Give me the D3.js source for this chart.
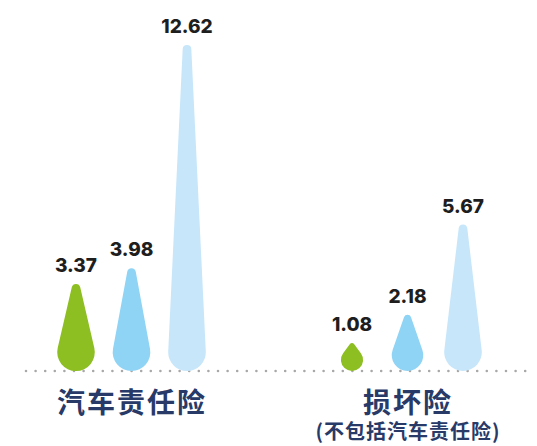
<!DOCTYPE html>
<html>
<head>
<meta charset="utf-8">
<script src="https://cdn.jsdelivr.net/npm/d3@7"></script>
<style>
  html, body { margin: 0; padding: 0; background: #ffffff; }
  svg { display: block; }
</style>
</head>
<body>
<svg id="chart" width="537" height="446"></svg>
<script>
// Insurance categories and their three series of values
const categories = ["汽车责任险", "损坏险"];
const subtitles = ["", "(不包括汽车责任险)"];
const seriesNames = ["a", "b", "c"];
const seriesColors = ["#8dbe22", "#8fd3f5", "#c7e6fa"];
const values = [
  [3.37, 3.98, 12.62],
  [1.08, 2.18, 5.67]
];

const svg = d3.select("#chart");

// Group positions and position of each series inside a group
const x0 = d3.scalePoint().domain(categories).range([131, 407]);
const x1 = d3.scalePoint().domain(seriesNames).range([-55, 56]);
const y = d3.scaleLinear().domain([0, 12.62]).range([371, 45]);

// Dotted baseline
svg.append("line")
  .attr("x1", 26).attr("x2", 532)
  .attr("y1", y(0)).attr("y2", y(0))
  .attr("stroke", "#a8a8a8")
  .attr("stroke-width", 2.6)
  .attr("stroke-linecap", "round")
  .attr("stroke-dasharray", "0 9.6");

// Teardrop: round base resting on the baseline, tapering to a small round tip
function dropPath(cx, top, base) {
  const h = base - top;
  const R = Math.min(18.8, 2.1 * Math.sqrt(h));
  const r = 0.23 * R;
  const cyB = base - R;
  const cyT = top + r;
  const d = cyB - cyT;
  const s = Math.min(0.999, (R - r) / d);
  const a = Math.asin(s);
  const ca = Math.cos(a), sa = Math.sin(a);
  const p = d3.path();
  p.moveTo(cx - R * ca, cyB - R * sa);
  p.lineTo(cx - r * ca, cyT - r * sa);
  p.arc(cx, cyT, r, Math.PI + a, 2 * Math.PI - a);
  p.lineTo(cx + R * ca, cyB - R * sa);
  p.arc(cx, cyB, R, -a, Math.PI + a);
  p.closePath();
  return p.toString();
}

const groups = svg.selectAll("g.group")
  .data(categories)
  .join("g")
  .attr("class", "group")
  .attr("transform", c => `translate(${x0(c)},0)`);

groups.each(function (c, gi) {
  const g = d3.select(this);
  const rows = values[gi].map((v, i) => ({ v, s: seriesNames[i], color: seriesColors[i] }));

  g.selectAll("path.drop")
    .data(rows)
    .join("path")
    .attr("class", "drop")
    .attr("d", d => dropPath(x1(d.s), y(d.v), y(0)))
    .attr("fill", d => d.color);

  g.selectAll("text.value")
    .data(rows)
    .join("text")
    .attr("class", "value")
    .attr("x", d => x1(d.s))
    .attr("y", d => y(d.v) - 12)
    .attr("text-anchor", "middle")
    .attr("font-family", "Inter, 'Open Sans', sans-serif")
    .attr("font-weight", 800)
    .attr("font-size", 19)
    .attr("fill", "#1e1e1e")
    .text(d => d.v.toFixed(2));

  g.append("text")
    .attr("x", 1)
    .attr("y", 403.5)
    .attr("dy", "0.35em")
    .attr("text-anchor", "middle")
    .attr("font-family", "'Noto Sans CJK SC', sans-serif")
    .attr("font-weight", 700)
    .attr("font-size", 28)
    .attr("letter-spacing", 2)
    .attr("fill", "#283a68")
    .text(c);

  if (subtitles[gi]) {
    g.append("text")
      .attr("x", 1)
      .attr("y", 431.5)
      .attr("dy", "0.35em")
      .attr("text-anchor", "middle")
      .attr("font-family", "'Noto Sans CJK SC', sans-serif")
      .attr("font-weight", 700)
      .attr("font-size", 20)
      .attr("letter-spacing", 1)
      .attr("fill", "#283a68")
      .text(subtitles[gi]);
  }
});
</script>
</body>
</html>
